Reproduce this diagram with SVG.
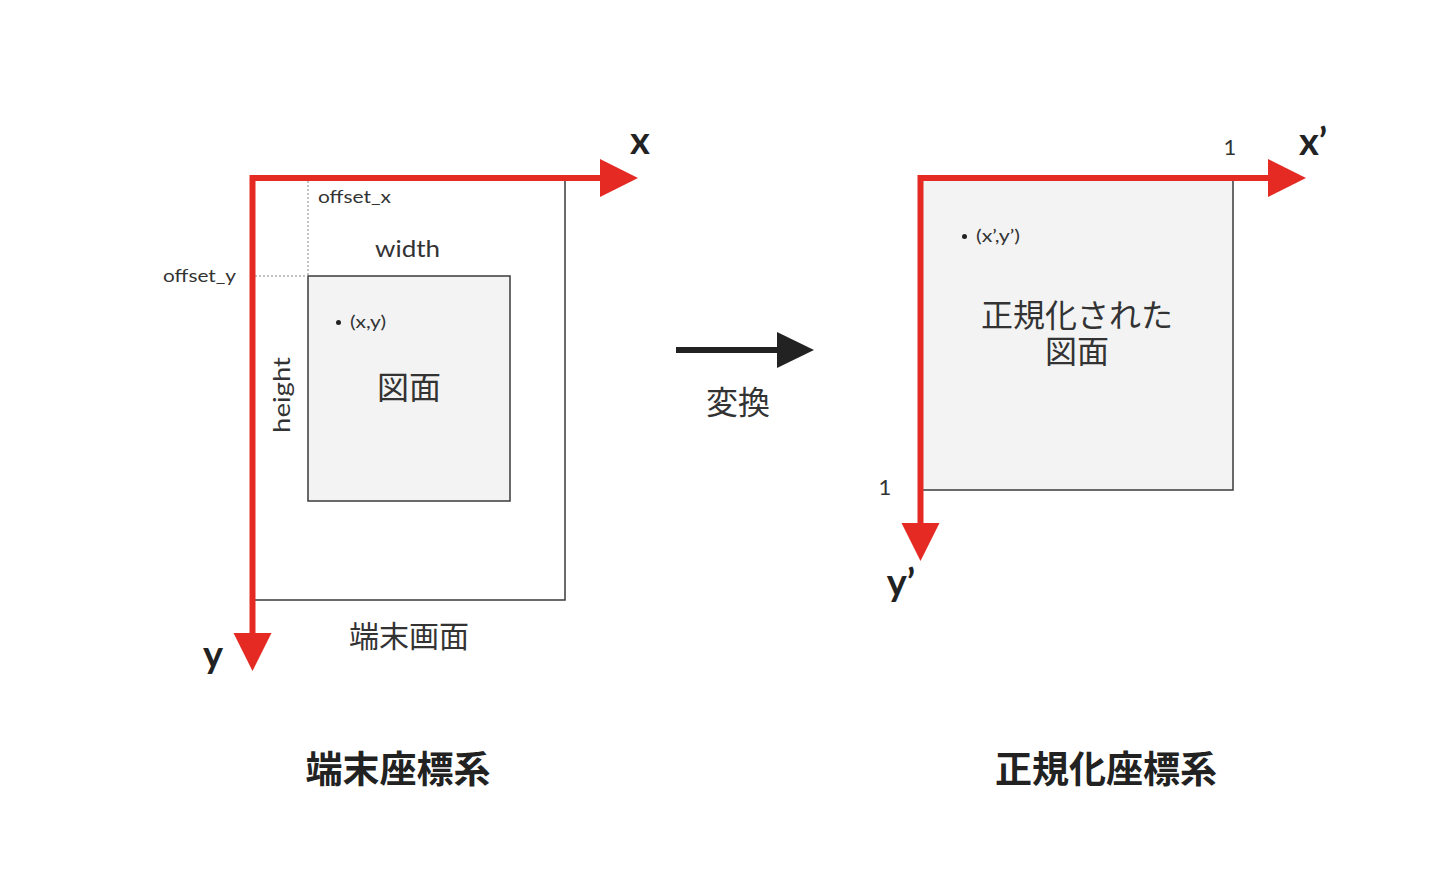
<svg xmlns="http://www.w3.org/2000/svg" width="1440" height="882" viewBox="0 0 1440 882">
<style>
text{font-family:Lato,"Noto Sans CJK JP",sans-serif;fill:#333}
.jp{font-family:"Noto Sans CJK JP",sans-serif}
.ax{font-family:Lato,"Noto Sans CJK JP",sans-serif;font-weight:bold;font-size:38px;fill:#222}
.box{fill:#f3f3f3;stroke:#3a3a3a;stroke-width:1.5}
.frame{fill:none;stroke:#3a3a3a;stroke-width:1.5}
.red{stroke:#e52a24;stroke-width:6;fill:none}
.redh{fill:#e52a24}
.dash{stroke:#888;stroke-width:1;stroke-dasharray:2 2;fill:none}
.dot{fill:#222}
.title{font-family:"Noto Sans CJK JP",sans-serif;font-weight:bold;font-size:37px;fill:#222}
</style>
<rect width="1440" height="882" fill="#fff"/>

<g id="screen">
<rect class="frame" x="252" y="178" width="313" height="422"/>
<text class="jp" x="409" y="647" font-size="30" text-anchor="middle">端末画面</text>
</g>

<g id="figure">
<rect class="box" x="308" y="276" width="202" height="225"/>
<circle class="dot" cx="338.5" cy="322.5" r="2.5"/>
<text x="350" y="328" font-size="17" textLength="36" lengthAdjust="spacingAndGlyphs">(x,y)</text>
<text class="jp" x="409" y="399" font-size="32" text-anchor="middle">図面</text>
</g>

<g id="dims">
<path class="dash" d="M308 181V276M255 276H308"/>
<text x="318" y="203" font-size="18" textLength="73" lengthAdjust="spacingAndGlyphs">offset_x</text>
<text x="163" y="282" font-size="18" textLength="73" lengthAdjust="spacingAndGlyphs">offset_y</text>
<text x="375" y="257" font-size="23" textLength="65" lengthAdjust="spacingAndGlyphs">width</text>
<text x="290" y="433" font-size="23" textLength="76" lengthAdjust="spacingAndGlyphs" transform="rotate(-90 290 433)">height</text>
</g>

<g id="norm-figure">
<rect class="box" x="920" y="178" width="313" height="312"/>
<circle class="dot" cx="964.5" cy="236.5" r="2.5"/>
<text x="976" y="242" font-size="17" textLength="44" lengthAdjust="spacingAndGlyphs">(x’,y’)</text>
<text class="jp" x="1077" y="327" font-size="32" text-anchor="middle">正規化された</text>
<text class="jp" x="1077" y="363" font-size="32" text-anchor="middle">図面</text>
<text x="1230" y="155" font-size="22" text-anchor="middle">1</text>
<text x="885" y="495" font-size="22" text-anchor="middle">1</text>
</g>

<g id="connectors">
<path class="red" d="M252.5 640V178H602"/>
<polygon class="redh" points="600,159 638,178 600,197"/>
<polygon class="redh" points="233.5,633 271.5,633 252.5,671"/>
<path class="red" d="M920.5 525V178H1270"/>
<polygon class="redh" points="1268,159 1306,178 1268,197"/>
<polygon class="redh" points="901.5,523 939.5,523 920.5,561"/>
<path d="M676 350H780" stroke="#222" stroke-width="6"/>
<polygon points="777,332 814,350 777,368" fill="#222"/>
<text class="jp" x="738" y="414" font-size="32" text-anchor="middle">変換</text>
</g>

<g id="axis-labels">
<text class="ax" x="640" y="154" text-anchor="middle">x</text>
<text class="ax" x="213" y="668" text-anchor="middle">y</text>
<text class="ax" x="1313" y="155" text-anchor="middle">x’</text>
<text class="ax" x="901" y="596" text-anchor="middle">y’</text>
</g>

<g id="titles">
<text class="title" x="398" y="783" text-anchor="middle">端末座標系</text>
<text class="title" x="1106" y="783" text-anchor="middle">正規化座標系</text>
</g>
</svg>
